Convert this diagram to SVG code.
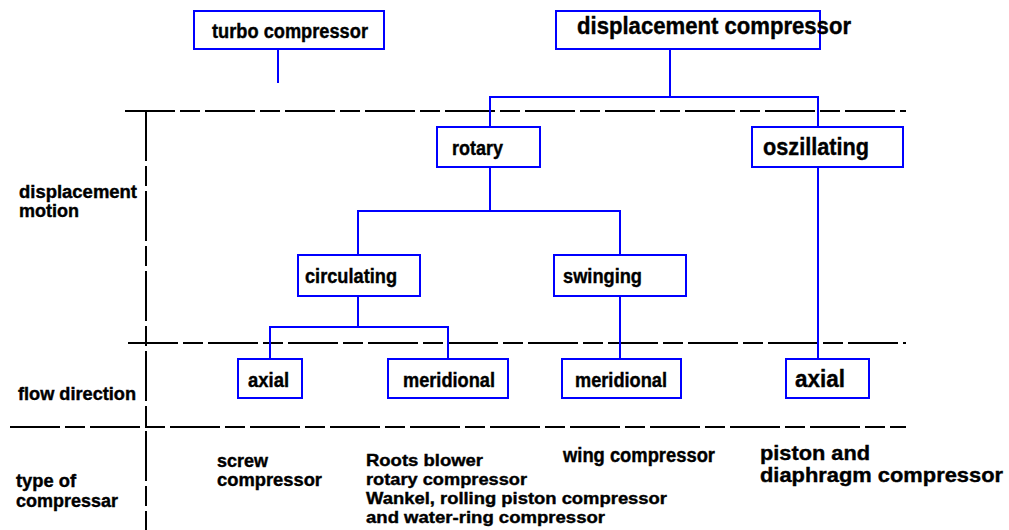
<svg xmlns="http://www.w3.org/2000/svg" width="1009" height="530" viewBox="0 0 1009 530">
<style>
.box{fill:#fff;stroke:#0000ff;stroke-width:2}
.con{fill:none;stroke:#0000ff;stroke-width:2}
.dash{fill:none;stroke:#000;stroke-width:2;stroke-dasharray:50 5 20 5}
text{font-family:"Liberation Sans",Arial,sans-serif;font-weight:bold;fill:#000;stroke:#000;stroke-width:0.4}
.s{font-size:20px}
.l{font-size:24px}
.m{font-size:18px}
.t{font-size:17px}
.p{font-size:21px}
</style>
<rect width="1009" height="530" fill="#fff"/>
<g id="grid">
<line class="dash" x1="125" y1="111" x2="906" y2="111"/>
<line class="dash" x1="128" y1="343" x2="906" y2="343"/>
<line class="dash" x1="10" y1="427" x2="906" y2="427"/>
<line class="dash" x1="146" y1="111" x2="146" y2="530"/>
</g>
<g id="connectors">
<path class="con" d="M278 49V83"/>
<path class="con" d="M670 49V97M490 127V97H818V127"/>
<path class="con" d="M818 167V359"/>
<path class="con" d="M490 167V211M358 255V211H620V255"/>
<path class="con" d="M358 296V327M270 359V327H448V359"/>
<path class="con" d="M620 296V359"/>
</g>
<g id="turbo">
<rect class="box" x="194" y="11" width="190" height="38"/>
<text class="s" x="212" y="38" textLength="156" lengthAdjust="spacingAndGlyphs">turbo compressor</text>
</g>
<g id="displacement">
<rect class="box" x="556" y="11" width="264" height="38"/>
<text class="l" x="577" y="34" textLength="274" lengthAdjust="spacingAndGlyphs">displacement compressor</text>
</g>
<g id="rotary">
<rect class="box" x="437" y="127" width="103" height="40"/>
<text class="s" x="452" y="155" textLength="51" lengthAdjust="spacingAndGlyphs">rotary</text>
</g>
<g id="oszillating">
<rect class="box" x="752" y="127" width="151" height="40"/>
<text class="l" x="763" y="155" textLength="106" lengthAdjust="spacingAndGlyphs">oszillating</text>
</g>
<g id="circulating">
<rect class="box" x="298" y="255" width="122" height="41"/>
<text class="s" x="305" y="283" textLength="92" lengthAdjust="spacingAndGlyphs">circulating</text>
</g>
<g id="swinging">
<rect class="box" x="554" y="255" width="132" height="41"/>
<text class="s" x="563" y="283" textLength="79" lengthAdjust="spacingAndGlyphs">swinging</text>
</g>
<g id="axial1">
<rect class="box" x="238" y="359" width="64" height="39"/>
<text class="s" x="248" y="387" textLength="41" lengthAdjust="spacingAndGlyphs">axial</text>
</g>
<g id="meridional1">
<rect class="box" x="388" y="359" width="120" height="39"/>
<text class="s" x="403" y="387" textLength="92" lengthAdjust="spacingAndGlyphs">meridional</text>
</g>
<g id="meridional2">
<rect class="box" x="562" y="359" width="119" height="39"/>
<text class="s" x="575" y="387" textLength="92" lengthAdjust="spacingAndGlyphs">meridional</text>
</g>
<g id="axial2">
<rect class="box" x="786" y="359" width="83" height="39"/>
<text class="l" x="795" y="387" textLength="50" lengthAdjust="spacingAndGlyphs">axial</text>
</g>
<g id="labels">
<text class="m" x="19" y="198" textLength="118" lengthAdjust="spacingAndGlyphs">displacement</text>
<text class="m" x="19" y="217" textLength="60" lengthAdjust="spacingAndGlyphs">motion</text>
<text class="m" x="18" y="400" textLength="118" lengthAdjust="spacingAndGlyphs">flow direction</text>
<text class="m" x="16" y="487" textLength="60" lengthAdjust="spacingAndGlyphs">type of</text>
<text class="m" x="16" y="507" textLength="102" lengthAdjust="spacingAndGlyphs">compressar</text>
</g>
<g id="types">
<text class="m" x="217" y="467" textLength="51" lengthAdjust="spacingAndGlyphs">screw</text>
<text class="m" x="217" y="486" textLength="105" lengthAdjust="spacingAndGlyphs">compressor</text>
<text class="t" x="366" y="466" textLength="117" lengthAdjust="spacingAndGlyphs">Roots blower</text>
<text class="t" x="366" y="485" textLength="161" lengthAdjust="spacingAndGlyphs">rotary compressor</text>
<text class="t" x="366" y="504" textLength="301" lengthAdjust="spacingAndGlyphs">Wankel, rolling piston compressor</text>
<text class="t" x="366" y="523" textLength="239" lengthAdjust="spacingAndGlyphs">and water-ring compressor</text>
<text class="s" x="563" y="462" textLength="152" lengthAdjust="spacingAndGlyphs">wing compressor</text>
<text class="p" x="760" y="460" textLength="110" lengthAdjust="spacingAndGlyphs">piston and</text>
<text class="p" x="760" y="482" textLength="243" lengthAdjust="spacingAndGlyphs">diaphragm compressor</text>
</g>
</svg>
